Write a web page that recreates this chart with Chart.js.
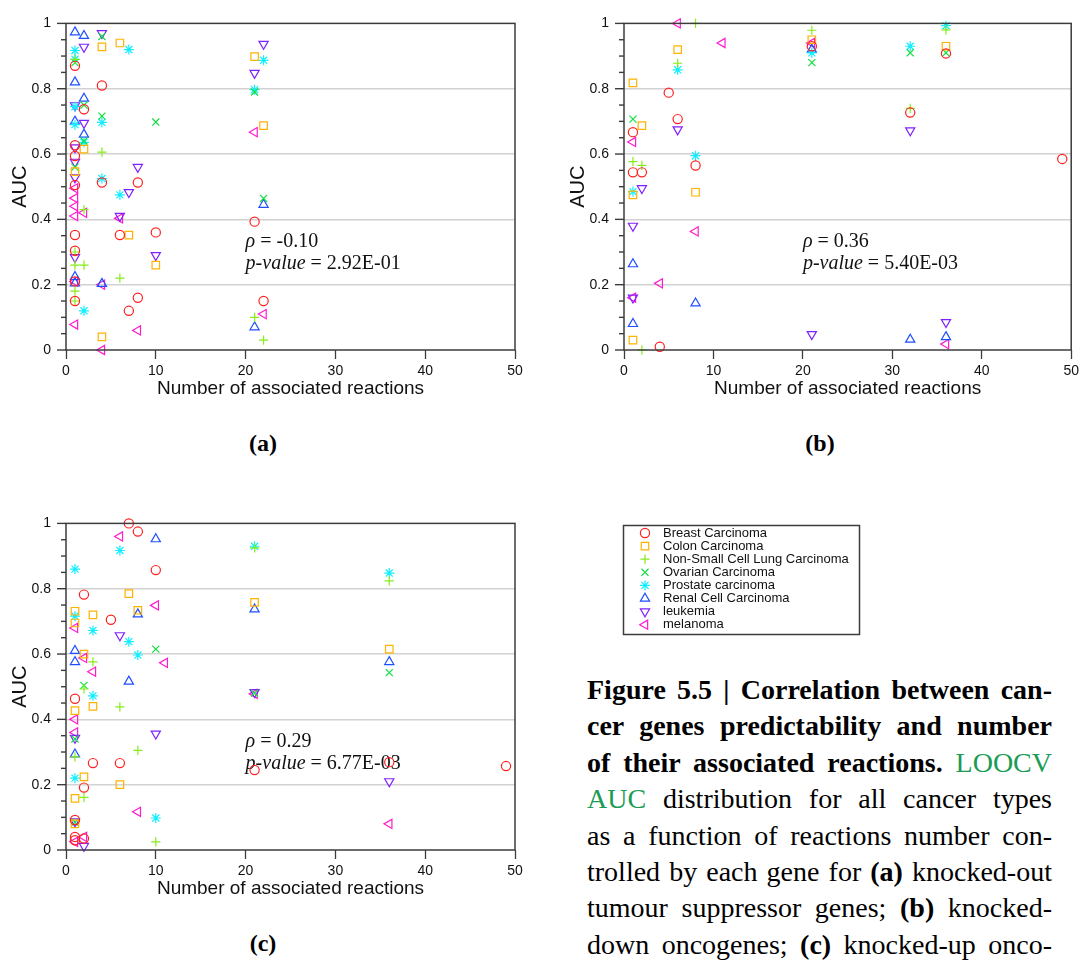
<!DOCTYPE html>
<html><head><meta charset="utf-8">
<script src="https://cdn.jsdelivr.net/npm/chart.js@4.4.1/dist/chart.umd.min.js"></script>
<style>
html,body{margin:0;padding:0;background:#fff;}
body{position:relative;width:1083px;height:960px;overflow:hidden;}
.box{position:absolute;}
.sub{position:absolute;width:100px;text-align:center;font:bold 24px "Liberation Serif",serif;line-height:30px;color:#000}
#cap{position:absolute;left:587px;top:672px;width:465px;font-family:"Liberation Serif",serif;font-size:28px;line-height:36.4px;color:#000}
#cap div{text-align:justify;text-align-last:justify;height:36.4px}
.g{color:#1a9c55}
</style></head><body>
<canvas id="ca" class="box" width="540" height="400" style="left:0;top:0"></canvas>
<canvas id="cb" class="box" width="525" height="400" style="left:558px;top:0"></canvas>
<canvas id="cc" class="box" width="540" height="400" style="left:0;top:500px"></canvas>
<canvas id="leg" class="box" width="260" height="125" style="left:615px;top:518px"></canvas>
<div class="sub" style="left:213px;top:428px">(a)</div>
<div class="sub" style="left:770px;top:428px">(b)</div>
<div class="sub" style="left:213px;top:928px">(c)</div>
<div id="cap">
<div><b>Figure 5.5 | Correlation between can-</b></div>
<div><b>cer genes predictability and number</b></div>
<div><b>of their associated reactions.</b> <span class="g">LOOCV</span></div>
<div><span class="g">AUC</span> distribution for all cancer types</div>
<div>as a function of reactions number con-</div>
<div>trolled by each gene for <b>(a)</b> knocked-out</div>
<div>tumour suppressor genes; <b>(b)</b> knocked-</div>
<div>down oncogenes; <b>(c)</b> knocked-up onco-</div>
</div>
<script>
// ---------- data ----------
const seriesNames = ['Breast Carcinoma','Colon Carcinoma','Non-Small Cell Lung Carcinoma','Ovarian Carcinoma','Prostate carcinoma','Renal Cell Carcinoma','leukemia','melanoma'];
const xAxisTitle = 'Number of associated reactions';
const yAxisTitle = 'AUC';
const xMin = 0, xMax = 50, xStep = 10;
const yMin = 0, yMax = 1, yStep = 0.2, yMinorStep = 0.05;
const statsRho = ['-0.10','0.36','0.29'];
const statsP = ['2.92E-01','5.40E-03','6.77E-03'];

// (a) knocked-out tumour suppressor genes  [reactions, AUC]
const a_breast = [[1,0.87],[4,0.81],[2,0.737],[1,0.627],[1,0.594],[1,0.505],[4,0.513],[8,0.513],[6,0.352],[1,0.352],[10,0.36],[1,0.304],[1,0.21],[1,0.15],[7,0.12],[8,0.16],[21,0.393],[22,0.15]];
const a_colon = [[4,0.928],[6,0.94],[2,0.615],[1,0.546],[7,0.352],[10,0.26],[4,0.04],[21,0.898],[22,0.687]];
const a_nsclc = [[1,0.89],[4,0.606],[2,0.43],[1,0.30],[1,0.26],[2,0.26],[6,0.22],[1,0.18],[1,0.15],[21,0.1],[22,0.03]];
const a_ovarian = [[1,0.88],[4,0.96],[2,0.75],[4,0.716],[10,0.698],[2,0.64],[1,0.56],[21,0.79],[22,0.464]];
const a_prostate = [[1,0.917],[1,0.89],[7,0.92],[1,0.745],[1,0.69],[4,0.697],[2,0.636],[4,0.525],[6,0.475],[2,0.12],[21,0.797],[22,0.887]];
const a_renal = [[1,0.973],[2,0.962],[1,0.82],[2,0.77],[1,0.70],[2,0.66],[1,0.224],[1,0.204],[4,0.203],[21,0.07],[22,0.445]];
const a_leukemia = [[4,0.97],[2,0.928],[1,0.749],[2,0.695],[1,0.62],[1,0.576],[1,0.528],[8,0.56],[7,0.483],[6,0.41],[1,0.284],[10,0.29],[21,0.848],[22,0.937]];
const a_melanoma = [[1,0.495],[1,0.465],[1,0.44],[1,0.41],[2,0.42],[6,0.403],[1,0.21],[4,0.2],[1,0.078],[8,0.06],[4,0.0],[21,0.667],[22,0.11]];

// (b) knocked-down oncogenes
const b_breast = [[5,0.788],[6,0.707],[1,0.667],[1,0.544],[2,0.544],[8,0.565],[4,0.01],[21,0.93],[32,0.727],[36,0.908],[49,0.585]];
const b_colon = [[6,0.92],[1,0.818],[2,0.687],[1,0.475],[8,0.483],[1,0.03],[21,0.95],[36,0.93]];
const b_nsclc = [[8,1.0],[6,0.878],[1,0.577],[2,0.565],[2,0.0],[21,0.979],[32,0.74],[36,0.98]];
const b_ovarian = [[1,0.707],[21,0.88],[32,0.91],[36,0.91]];
const b_prostate = [[6,0.858],[8,0.595],[1,0.485],[21,0.91],[32,0.93],[36,0.993]];
const b_renal = [[1,0.263],[8,0.143],[1,0.08],[21,0.92],[32,0.032],[36,0.04]];
const b_leukemia = [[6,0.675],[2,0.495],[1,0.38],[1,0.16],[21,0.048],[32,0.672],[36,0.085]];
const b_melanoma = [[6,1.0],[11,0.94],[1,0.637],[8,0.363],[4,0.204],[1,0.16],[21,0.94],[36,0.018]];

// (c) knocked-up oncogenes
const c_breast = [[7,1.0],[8,0.975],[10,0.857],[2,0.782],[5,0.705],[1,0.463],[3,0.266],[6,0.266],[2,0.191],[1,0.092],[1,0.04],[1,0.03],[2,0.035],[21,0.245],[36,0.269],[49,0.257]];
const c_colon = [[7,0.785],[1,0.731],[8,0.734],[3,0.72],[1,0.695],[2,0.6],[1,0.427],[3,0.44],[2,0.224],[6,0.2],[1,0.158],[1,0.08],[21,0.758],[36,0.615]];
const c_nsclc = [[3,0.576],[2,0.493],[6,0.438],[8,0.305],[1,0.285],[2,0.161],[10,0.025],[21,0.925],[36,0.824]];
const c_ovarian = [[10,0.615],[2,0.504],[1,0.34],[1,0.085],[21,0.48],[36,0.543]];
const c_prostate = [[6,0.917],[1,0.86],[1,0.716],[3,0.672],[7,0.638],[8,0.597],[3,0.472],[1,0.22],[10,0.098],[21,0.93],[36,0.848]];
const c_renal = [[10,0.952],[8,0.722],[1,0.61],[1,0.576],[7,0.516],[1,0.293],[21,0.737],[36,0.576]];
const c_leukemia = [[6,0.657],[10,0.356],[1,0.343],[1,0.087],[2,0.012],[21,0.483],[36,0.21]];
const c_melanoma = [[6,0.96],[10,0.749],[1,0.68],[2,0.588],[11,0.573],[3,0.546],[1,0.4],[1,0.36],[8,0.117],[1,0.025],[2,0.04],[21,0.478],[36,0.08]];

// ---------- styles ----------
const colors = ['#ff1f1f','#ffb300','#86ec1a','#10e040','#10eeff','#1f4fff','#8020ff','#ff1ccf'];
const shapes = ['circle','rect','cross','crossRot','star','triangle','triangle','triangle'];
const rotations = [0,0,0,0,0,0,180,-90];
const radii = [4.6,5.3,4.6,5,5,5.3,5.3,5.3];
const FONT = '"Liberation Sans", Arial, sans-serif';
const SERIF = '"Liberation Serif", "Times New Roman", serif';
const statX = 20, statY1 = 0.331, statY2 = 0.263;

const toPts = arr => arr.map(([x,y]) => ({x, y}));

const framePlugin = {
  id: 'frame',
  afterDraw(chart) {
    const {ctx, chartArea: a, scales: {y}} = chart;
    ctx.save();
    ctx.strokeStyle = '#3c3c3c';
    ctx.lineWidth = 1.5;
    ctx.strokeRect(a.left, a.top, a.right - a.left, a.bottom - a.top);
    ctx.lineWidth = 1.4;
    const n = Math.round((yMax - yMin) / yMinorStep);
    const per = Math.round(yStep / yMinorStep);
    for (let i = 0; i <= n; i++) {
      const py = y.getPixelForValue(yMin + i * yMinorStep);
      const len = (i % per === 0) ? 9 : 5;
      ctx.beginPath();
      ctx.moveTo(a.left - len, py);
      ctx.lineTo(a.left, py);
      ctx.stroke();
    }
    ctx.restore();
  }
};

function drawParts(ctx, x, y, parts, size) {
  let cx = x;
  for (const [txt, it] of parts) {
    ctx.font = (it ? 'italic ' : '') + size + 'px ' + SERIF;
    ctx.fillText(txt, cx, y);
    cx += ctx.measureText(txt).width;
  }
}

const statPlugin = {
  id: 'stats',
  beforeDatasetsDraw(chart, args, opts) {
    const {ctx, scales: {x, y}} = chart;
    ctx.save();
    ctx.fillStyle = '#111';
    ctx.textBaseline = 'middle';
    ctx.textAlign = 'left';
    const px = x.getPixelForValue(statX);
    drawParts(ctx, px, y.getPixelForValue(statY1), [['\u03C1', true], [' = ', false], [opts.rho, false]], 20);
    drawParts(ctx, px, y.getPixelForValue(statY2), [['p', true], ['-', false], ['value', true], [' = ', false], [opts.p, false]], 20);
    ctx.restore();
  }
};

function makeChart(id, series, idx, rightPad) {
  const datasets = series.map((arr, i) => ({
    label: seriesNames[i],
    data: toPts(arr),
    pointStyle: shapes[i],
    pointRotation: rotations[i],
    pointRadius: radii[i],
    pointBorderWidth: 1.2,
    pointBorderColor: colors[i],
    pointBackgroundColor: 'rgba(0,0,0,0)',
    borderColor: colors[i],
    backgroundColor: 'rgba(0,0,0,0)',
    showLine: false,
    clip: false
  }));
  return new Chart(document.getElementById(id), {
    type: 'scatter',
    data: {datasets},
    plugins: [framePlugin, statPlugin],
    options: {
      responsive: false,
      animation: false,
      events: [],
      layout: {padding: {left: 0, right: rightPad, top: 15, bottom: 0}},
      plugins: {
        legend: {display: false},
        tooltip: {enabled: false},
        stats: {rho: statsRho[idx], p: statsP[idx]}
      },
      scales: {
        x: {
          type: 'linear', min: xMin, max: xMax,
          ticks: {stepSize: xStep, font: {family: FONT, size: 14}, color: '#111', padding: 4, maxRotation: 0},
          grid: {drawOnChartArea: false, drawTicks: true, tickLength: 9, tickColor: '#3c3c3c', tickWidth: 1.3},
          border: {display: false},
          title: {display: true, text: xAxisTitle, font: {family: FONT, size: 19}, color: '#111', padding: {top: 0, bottom: 0}},
          afterFit: s => { s.height = 50; }
        },
        y: {
          type: 'linear', min: yMin, max: yMax,
          ticks: {stepSize: yStep, font: {family: FONT, size: 14}, color: '#111', padding: 15,
                  callback: v => String(+(+v).toFixed(1))},
          grid: {drawTicks: false, lineWidth: 1.5,
                 color: c => (c.tick && c.tick.value > yMin + 0.001 && c.tick.value < yMax - 0.001) ? '#d2d2d2' : 'rgba(0,0,0,0)'},
          border: {display: false},
          title: {display: true, text: yAxisTitle, font: {family: FONT, size: 20}, color: '#111', padding: {top: 8, bottom: 0}},
          afterFit: s => { s.width = 66; }
        }
      }
    }
  });
}

makeChart('ca', [a_breast, a_colon, a_nsclc, a_ovarian, a_prostate, a_renal, a_leukemia, a_melanoma], 0, 25);
makeChart('cb', [b_breast, b_colon, b_nsclc, b_ovarian, b_prostate, b_renal, b_leukemia, b_melanoma], 1, 11);
makeChart('cc', [c_breast, c_colon, c_nsclc, c_ovarian, c_prostate, c_renal, c_leukemia, c_melanoma], 2, 25);

// ---------- legend ----------
(function () {
  const cv = document.getElementById('leg');
  const ctx = cv.getContext('2d');
  ctx.strokeStyle = '#3c3c3c';
  ctx.lineWidth = 1.5;
  ctx.strokeRect(8.5, 7.5, 236, 109);
  seriesNames.forEach((name, i) => {
    const y = 15 + i * 13.1;
    ctx.save();
    ctx.strokeStyle = colors[i];
    ctx.fillStyle = 'rgba(0,0,0,0)';
    ctx.lineWidth = 1.2;
    if (Chart.helpers && Chart.helpers.drawPoint) {
      Chart.helpers.drawPoint(ctx, {pointStyle: shapes[i], rotation: rotations[i], radius: radii[i], borderWidth: 1.2}, 30, y);
    }
    ctx.restore();
    ctx.fillStyle = '#111';
    ctx.font = '13px ' + FONT;
    ctx.textBaseline = 'middle';
    ctx.fillText(name, 48, y);
  });
})();
</script>
</body></html>
